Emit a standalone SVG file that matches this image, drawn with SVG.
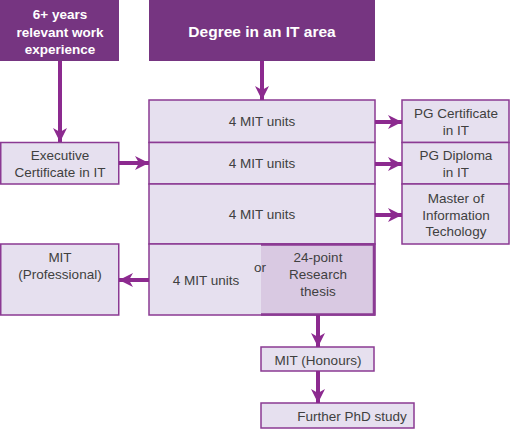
<svg xmlns="http://www.w3.org/2000/svg" width="510" height="429" viewBox="0 0 510 429">
<defs>
<style>
.hdr{fill:#763581}
.box{fill:#e6e0ef;stroke:#8b3a93;stroke-width:1.5}
.t{font-family:"Liberation Sans",Arial,sans-serif;font-size:13.5px;fill:#404040;text-anchor:middle}
.h{font-family:"Liberation Sans",Arial,sans-serif;font-weight:bold;fill:#ffffff;text-anchor:middle}
.c{stroke:#8c2a8f;stroke-width:4;fill:none;marker-end:url(#ah)}
</style>
<marker id="ah" markerUnits="userSpaceOnUse" viewBox="0 0 14 14" markerWidth="14" markerHeight="14" refX="14" refY="7" orient="auto">
<path d="M0,0 L14,7 L0,14 L4,7 z" fill="#8c2a8f"/>
</marker>
</defs>
<g id="work-experience">
<rect class="hdr" x="0" y="0" width="119" height="61"/>
<text class="h" font-size="13.5" x="60" y="19">6+ years</text>
<text class="h" font-size="13.5" x="60" y="37">relevant work</text>
<text class="h" font-size="13.5" x="60" y="54">experience</text>
</g>
<g id="degree">
<rect class="hdr" x="149" y="0" width="226" height="61"/>
<text class="h" font-size="15.5" x="262" y="37">Degree in an IT area</text>
</g>
<g id="units1">
<rect class="box" x="149" y="100" width="226" height="42.5"/>
<text class="t" x="262" y="126">4 MIT units</text>
</g>
<g id="units2">
<rect class="box" x="149" y="142.5" width="226" height="41.5"/>
<text class="t" x="262" y="168">4 MIT units</text>
</g>
<g id="units3">
<rect class="box" x="149" y="184" width="226" height="60"/>
<text class="t" x="262" y="219">4 MIT units</text>
</g>
<g id="units4">
<rect class="box" x="149" y="244" width="226" height="71"/>
<text class="t" x="206" y="285">4 MIT units</text>
</g>
<g id="thesis">
<rect x="261" y="244" width="113" height="71" fill="#d9c9e2"/>
<path d="M261,244.5 H374 V314.5 H261" fill="none" stroke="#8b3a93" stroke-width="2.5"/>
<text class="t" x="260" y="272">or</text>
<text class="t" x="318" y="262">24-point</text>
<text class="t" x="318" y="279">Research</text>
<text class="t" x="318" y="296">thesis</text>
</g>
<g id="pg-certificate">
<rect class="box" x="402" y="100" width="107" height="42.5"/>
<text class="t" x="456" y="118">PG Certificate</text>
<text class="t" x="456" y="135">in IT</text>
</g>
<g id="pg-diploma">
<rect class="box" x="402" y="142.5" width="107" height="41.5"/>
<text class="t" x="456" y="160">PG Diploma</text>
<text class="t" x="456" y="177">in IT</text>
</g>
<g id="master">
<rect class="box" x="402" y="184" width="107" height="60"/>
<text class="t" x="456" y="203">Master of</text>
<text class="t" x="456" y="220">Information</text>
<text class="t" x="456" y="236">Techology</text>
</g>
<g id="exec-cert">
<rect class="box" x="0.75" y="142.5" width="118" height="41.5"/>
<text class="t" x="60" y="160">Executive</text>
<text class="t" x="60" y="177">Certificate in IT</text>
</g>
<g id="mit-professional">
<rect class="box" x="0.75" y="244" width="118" height="71"/>
<text class="t" x="60" y="262">MIT</text>
<text class="t" x="60" y="279">(Professional)</text>
</g>
<g id="mit-honours">
<rect class="box" x="261" y="347" width="113" height="24"/>
<text class="t" x="318" y="365">MIT (Honours)</text>
</g>
<g id="phd">
<rect class="box" x="261" y="403" width="153" height="25"/>
<text class="t" x="352" y="421">Further PhD study</text>
</g>
<g id="connectors">
<line class="c" x1="60" y1="61" x2="60" y2="142"/>
<line class="c" x1="262" y1="61" x2="262" y2="100"/>
<line class="c" x1="119" y1="163" x2="149" y2="163"/>
<line class="c" x1="375" y1="122" x2="402" y2="122"/>
<line class="c" x1="375" y1="164" x2="402" y2="164"/>
<line class="c" x1="375" y1="215" x2="402" y2="215"/>
<line class="c" x1="149" y1="280" x2="119" y2="280"/>
<line class="c" x1="318" y1="315" x2="318" y2="347"/>
<line class="c" x1="318" y1="371" x2="318" y2="403"/>
</g>
</svg>
